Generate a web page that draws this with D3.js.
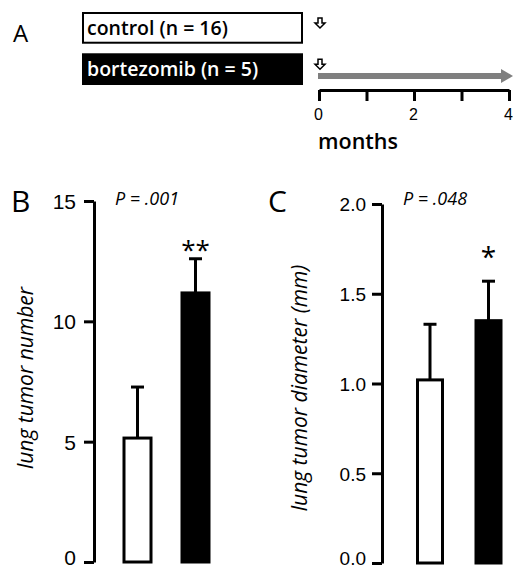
<!DOCTYPE html>
<html>
  <head>
    <meta charset="utf-8" />
    <title>Bortezomib lung tumors</title>
    <script src="https://d3js.org/d3.v7.min.js"></script>
    <style>
      body { margin: 0; background: #fff; }
      svg { display: block; font-family: "Open Sans", Lato, sans-serif; }
    </style>
  </head>
  <body>
    <div id="chart"></div>

    <script>
      // groups and their sample sizes
      const groups = ["control", "bortezomib"];
      const groupN = [16, 5];

      // panel B: lung tumor number (mean, error)
      const tumorNumber = [5.15, 11.18];
      const tumorNumberErr = [2.12, 1.42];
      const numberTicks = [0, 5, 10, 15];

      // panel C: lung tumor diameter in mm (mean, error)
      const tumorDiameter = [1.02, 1.35];
      const tumorDiameterErr = [0.31, 0.22];
      const diameterTicks = [0, 0.5, 1.0, 1.5, 2.0];

      // panel A: timeline in months
      const monthTicks = [0, 1, 2, 3, 4];
      const monthLabels = ["0", "", "2", "", "4"];

      const pValues = ["P = .001", "P = .048"];
      const stars = ["**", "*"];

      const width = 513, height = 571;
      const svg = d3.select("#chart").append("svg")
        .attr("width", width).attr("height", height);

      // ---------- Panel A ----------
      svg.append("text").attr("x", 13).attr("y", 42)
        .style("font-size", "24px").text("A");

      const boxY = d3.scaleBand().domain(groups).range([13, 84]).paddingInner(0.28);
      const boxes = svg.selectAll("g.box").data(groups).enter().append("g");
      boxes.append("rect")
        .attr("x", 83).attr("y", d => boxY(d))
        .attr("width", 219).attr("height", boxY.bandwidth())
        .attr("fill", (d, i) => i ? "#000" : "#fff")
        .attr("stroke", "#000").attr("stroke-width", 2);
      boxes.append("text")
        .attr("x", 87).attr("y", d => boxY(d) + boxY.bandwidth() / 2 + 7)
        .attr("fill", (d, i) => i ? "#fff" : "#000")
        .style("font-size", "19.5px").style("font-weight", "600")
        .text((d, i) => `${d} (n = ${groupN[i]})`);

      const xMonth = d3.scaleLinear().domain([0, 4]).range([319, 509]);

      // small hollow down arrows marking start
      const arrowPath = "M-2,0 H2 V5 H5 L0,10 L-5,5 H-2 Z";
      boxes.append("path")
        .attr("d", arrowPath)
        .attr("transform", d => `translate(${xMonth(0) + 1},${boxY(d) + 5})`)
        .attr("fill", "#fff").attr("stroke", "#000").attr("stroke-width", 1.5);

      // grey treatment arrow
      svg.append("line")
        .attr("x1", xMonth(0) - 1).attr("x2", xMonth(4) - 6)
        .attr("y1", 76).attr("y2", 76)
        .attr("stroke", "#7f7f7f").attr("stroke-width", 6);
      svg.append("path")
        .attr("d", `M${xMonth(4) - 8},69 L${xMonth(4) + 4},76 L${xMonth(4) - 8},83 Z`)
        .attr("fill", "#7f7f7f");

      const monthAxis = svg.append("g").attr("transform", "translate(0,90)")
        .call(d3.axisBottom(xMonth).tickValues(monthTicks)
          .tickFormat((d, i) => monthLabels[i])
          .tickSize(11).tickSizeOuter(0).tickPadding(8));
      monthAxis.select(".domain").attr("stroke-width", 3);
      monthAxis.selectAll(".tick line").attr("stroke-width", 3);
      monthAxis.selectAll("text").style("font-size", "16px")
        .attr("font-family", null).attr("transform", "translate(-1,0)");
      svg.append("text").attr("x", 318).attr("y", 149)
        .style("font-size", "21.5px").style("font-weight", "600").text("months");

      // ---------- Bar panels ----------
      function barPanel(o) {
        const g = svg.append("g");
        const y = d3.scaleLinear().domain(o.domain).range([o.y0, o.y1]);
        const x = d3.scalePoint().domain(groups).range(o.xr);

        g.append("text").attr("x", o.letterX).attr("y", 212)
          .style("font-size", "30px").text(o.letter);

        const ax = g.append("g").attr("transform", `translate(${o.axisX},0)`)
          .call(d3.axisLeft(y).tickValues(o.ticks).tickFormat(o.fmt)
            .tickSize(10).tickSizeOuter(0).tickPadding(o.pad));
        ax.select(".domain").attr("stroke-width", 3);
        ax.selectAll(".tick line").attr("stroke-width", 3);
        ax.selectAll("text").attr("font-family", null)
          .style("font-size", o.tickFont)
          .attr("dy", d => d === 0 ? "0.1em" : "0.36em");

        g.append("text")
          .attr("transform", `translate(${o.labelX},${o.labelY}) rotate(-90)`)
          .attr("text-anchor", "middle")
          .style("font-size", "21px").style("font-style", "italic")
          .text(o.label);

        g.append("text").attr("x", o.axisX + 21).attr("y", 205)
          .style("font-size", "18px").style("font-style", "italic")
          .text(o.p);

        // error bars (upward only)
        const err = g.selectAll("g.err").data(o.values).enter().append("g");
        err.append("line")
          .attr("x1", (d, i) => x(groups[i])).attr("x2", (d, i) => x(groups[i]))
          .attr("y1", d => y(d)).attr("y2", (d, i) => y(d + o.errs[i]))
          .attr("stroke", "#000").attr("stroke-width", 3);
        err.append("line")
          .attr("x1", (d, i) => x(groups[i]) - 6.5).attr("x2", (d, i) => x(groups[i]) + 6.5)
          .attr("y1", (d, i) => y(d + o.errs[i])).attr("y2", (d, i) => y(d + o.errs[i]))
          .attr("stroke", "#000").attr("stroke-width", 3);

        g.selectAll("rect.bar").data(o.values).enter().append("rect")
          .attr("x", (d, i) => x(groups[i]) - o.bw / 2 + 1.5)
          .attr("width", o.bw - 3)
          .attr("y", d => y(d))
          .attr("height", d => y(0) - y(d))
          .attr("fill", (d, i) => i ? "#000" : "#fff")
          .attr("stroke", "#000").attr("stroke-width", 3);

        g.append("text")
          .attr("x", x(groups[1])).attr("y", o.starY)
          .attr("text-anchor", "middle")
          .style("font-size", o.starSize).text(o.star);
      }

      barPanel({
        letter: "B", letterX: 11, axisX: 94, domain: [0, 15], y0: 562, y1: 201,
        xr: [137.5, 195.5], bw: 30, ticks: numberTicks, fmt: d3.format("d"),
        pad: 8, tickFont: "21px",
        label: "lung tumor number", labelX: 33, labelY: 378,
        values: tumorNumber, errs: tumorNumberErr, p: pValues[0],
        star: stars[0], starY: 259, starSize: "26px"
      });

      barPanel({
        letter: "C", letterX: 268, axisX: 382, domain: [0, 2], y0: 563, y1: 204,
        xr: [430, 488.5], bw: 28, ticks: diameterTicks, fmt: d3.format(".1f"),
        pad: 6, tickFont: "19px",
        label: "lung tumor diameter (mm)", labelX: 307, labelY: 388,
        values: tumorDiameter, errs: tumorDiameterErr, p: pValues[1],
        star: stars[1], starY: 267, starSize: "28px"
      });
    </script>
  </body>
</html>
